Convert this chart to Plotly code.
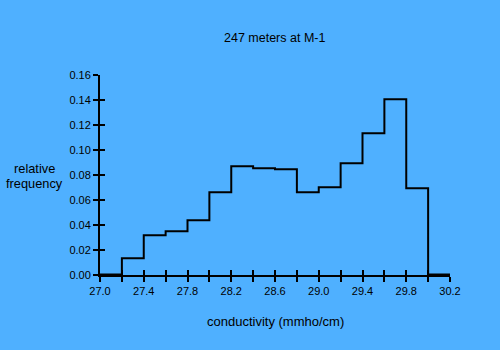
import plotly.graph_objects as go

# Relative frequency of conductivity in 0.2 mmho/cm bins, 27.0 .. 30.2
bin_edges = [27.0, 27.2, 27.4, 27.6, 27.8, 28.0, 28.2, 28.4, 28.6, 28.8,
             29.0, 29.2, 29.4, 29.6, 29.8, 30.0, 30.2]
rel_freq = [0.0005, 0.0134, 0.0318, 0.0350, 0.0438, 0.0662, 0.0870, 0.0854,
            0.0846, 0.0662, 0.0702, 0.0894, 0.1134, 0.1406, 0.0694, 0.0005]

x_tick_vals = bin_edges
x_tick_text = ["27.0", "", "27.4", "", "27.8", "", "28.2", "", "28.6", "",
               "29.0", "", "29.4", "", "29.8", "", "30.2"]
y_tick_vals = [0.00, 0.02, 0.04, 0.06, 0.08, 0.10, 0.12, 0.14, 0.16]
y_tick_text = ["0.00", "0.02", "0.04", "0.06", "0.08", "0.10", "0.12", "0.14", "0.16"]

BG = "rgb(79,176,255)"
FONT = "Liberation Sans, Arial, sans-serif"

# step outline: each bin's level held across its width
step_x = bin_edges
step_y = rel_freq + [rel_freq[-1]]

fig = go.Figure()
fig.add_trace(go.Scatter(x=step_x, y=step_y, mode="lines",
                         line=dict(color="black", width=2, shape="hv"),
                         hoverinfo="skip", showlegend=False))

axis_common = dict(showgrid=False, zeroline=False, showline=True,
                   linecolor="black", linewidth=2, tickcolor="black",
                   tickwidth=2, ticklen=5)

def label(text, px, py, size):
    """Place a text label at pixel position (px, py) of the 500x350 page."""
    return dict(text=text, xref="paper", yref="paper",
                x=(px - 100) / 350, y=(275 - py) / 200,
                xanchor="center", yanchor="middle", showarrow=False,
                font=dict(family=FONT, size=size, color="black"))

fig.update_layout(
    width=500, height=350,
    margin=dict(l=100, r=50, t=75, b=75),
    paper_bgcolor=BG, plot_bgcolor=BG,
    font=dict(family=FONT, size=11, color="black"),
    xaxis=dict(range=[27.0, 30.2], tickmode="array", tickvals=x_tick_vals,
               ticktext=x_tick_text, ticks="outside", **axis_common),
    yaxis=dict(range=[0, 0.16], tickmode="array", tickvals=y_tick_vals,
               ticktext=y_tick_text, ticks="outside", **axis_common),
    # inside tick halves so the tick marks cross the axis lines
    xaxis2=dict(range=[27.0, 30.2], overlaying="x", tickmode="array",
                tickvals=x_tick_vals, ticks="inside", showticklabels=False,
                **axis_common),
    yaxis2=dict(range=[0, 0.16], overlaying="y", tickmode="array",
                tickvals=y_tick_vals, ticks="inside", showticklabels=False,
                **axis_common),
    annotations=[
        label("247 meters at M-1", 274, 38, 12.5),
        label("conductivity (mmho/cm)", 275.5, 321, 13),
        label("relative", 34.5, 168.5, 12.8),
        label("frequency", 34, 183.5, 12.8),
    ],
)
# an empty trace on the secondary axes so they are drawn
fig.add_trace(go.Scatter(x=[27.0], y=[0], xaxis="x2", yaxis="y2",
                         mode="markers", marker=dict(opacity=0),
                         hoverinfo="skip", showlegend=False))

fig.write_html("out.html")
